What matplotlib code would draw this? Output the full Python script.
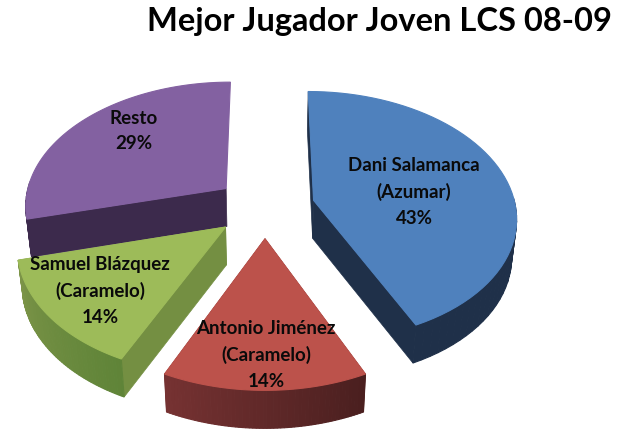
"""Mejor Jugador Joven LCS 08-09: exploded 3D pie drawn with flat polygons."""
import numpy as np
import matplotlib
matplotlib.use("Agg")
import matplotlib.pyplot as plt
from matplotlib.patches import Polygon

names = ["Dani Salamanca\n(Azumar)", "Antonio Jiménez\n(Caramelo)",
         "Samuel Blázquez\n(Caramelo)", "Resto"]
values = [43, 14, 14, 29]
top_cols = ["#4f81bd", "#bc524b", "#9dbb59", "#8361a1"]
face_cols = ["#1f3049", "#5c2423", "#748f42", "#3c2a4c"]
rim_from = ["#1f3049", "#4a1f1f", "#5f8438", "#3c2a4c"]
rim_to = ["#1f3049", "#763232", "#7c9448", "#3c2a4c"]
cut_faces = [(0, -1), (0, -1), (0, -1), (0,)]
label_xy = [(414, 192), (266, 355), (100, 291), (134, 131)]
draw_order = [3, 0, 2, 1]

# projection of the pie plane, fitted to the picture
X0, Y0 = 265, 208
K, KQ, PERSP = 202.0, 124.0, 0.125
EXPLODE = 0.248
DEPTH, SHRINK = 38, 0.98


def project(px, py):
    w = 1 + PERSP * py
    return X0 + K * px / w, Y0 - KQ * py / w


def lower(x, y):
    return X0 + (x - X0) * SHRINK, y + DEPTH


fig = plt.figure(figsize=(6.35, 4.39), dpi=100)
ax = fig.add_axes([0, 0, 1, 1])
ax.set_xlim(0, 635)
ax.set_ylim(439, 0)
ax.axis("off")

edges = np.concatenate([[0], np.cumsum(values)]) / sum(values) * 2 * np.pi

for i in draw_order:
    a0, a1 = edges[i], edges[i + 1]
    mid = (a0 + a1) / 2
    ox, oy = EXPLODE * np.sin(mid), EXPLODE * np.cos(mid)
    th = np.linspace(a0, a1, 60)
    x, y = project(ox + np.sin(th), oy + np.cos(th))
    cx, cy = project(ox, oy)
    xl, yl = lower(x, y)
    cxl, cyl = lower(cx, cy)

    # the cut faces that show
    for j in cut_faces[i]:
        ax.add_patch(Polygon([(cx, cy), (x[j], y[j]), (xl[j], yl[j]),
                              (cxl, cyl)], fc=face_cols[i], ec=face_cols[i],
                             lw=0.5))
    # rim, only the part turned to the viewer, shade drifts along the arc
    c0 = np.array(matplotlib.colors.to_rgb(rim_from[i]))
    c1 = np.array(matplotlib.colors.to_rgb(rim_to[i]))
    for j in range(len(th) - 1):
        if np.cos(th[j]) > 0.05:
            continue
        col = c0 + (c1 - c0) * j / (len(th) - 2)
        ax.add_patch(Polygon([(x[j], y[j]), (x[j + 1], y[j + 1]),
                              (xl[j + 1], yl[j + 1]), (xl[j], yl[j])],
                             fc=col, ec=col, lw=0.8))
    ax.add_patch(Polygon(np.vstack([[(cx, cy)], np.c_[x, y]]),
                         fc=top_cols[i], ec=top_cols[i], lw=0.8))

for name, val, (lx, ly) in zip(names, values, label_xy):
    ax.text(lx, ly, f"{name}\n{val}%", ha="center", va="center",
            family=["Lato", "DejaVu Sans"], weight="bold", fontsize=13.5,
            linespacing=1.6, color="#0a0a0a", zorder=10)

ax.text(147, 31, "Mejor Jugador Joven LCS 08-09", ha="left", va="baseline",
        family=["Lato", "DejaVu Sans"], weight="bold", fontsize=23.5,
        color="black", zorder=10)

fig.savefig("out.png", dpi=100)
